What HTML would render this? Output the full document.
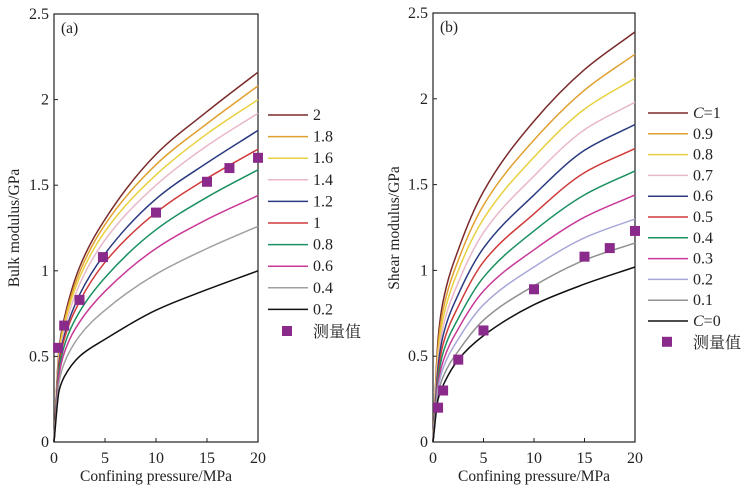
<!DOCTYPE html>
<html><head><meta charset="utf-8"><style>
body{margin:0;background:#fff}
svg text{font-family:"Liberation Serif","Noto Serif CJK SC",serif;fill:#222}
</style></head><body>
<svg id="chart" width="744" height="493" xmlns="http://www.w3.org/2000/svg"></svg>
<script>
const xs=[0,0.5,1,2.5,5,10,15,20];
const leftLabels=["2","1.8","1.6","1.4","1.2","1","0.8","0.6","0.4","0.2"];
const leftSeries=[
[0,0.55,0.72,1.02,1.30,1.68,1.93,2.16],
[0,0.53,0.70,0.99,1.27,1.62,1.86,2.08],
[0,0.51,0.68,0.96,1.23,1.56,1.80,2.00],
[0,0.49,0.65,0.92,1.18,1.50,1.73,1.92],
[0,0.47,0.62,0.86,1.10,1.42,1.63,1.82],
[0,0.45,0.60,0.82,1.05,1.34,1.54,1.71],
[0,0.42,0.56,0.76,0.96,1.24,1.43,1.59],
[0,0.39,0.52,0.70,0.88,1.13,1.30,1.44],
[0,0.35,0.46,0.62,0.77,0.98,1.13,1.26],
[0,0.30,0.38,0.50,0.60,0.77,0.89,1.00]];
const leftColors=["#7a2a2a","#e0a030","#e8d040","#e8b8cc","#2a3a80","#d03a3a","#1a9060","#c83a98","#a0a0a0","#111"];
const leftMx=[0.4,1,2.5,4.8,10,15,17.2,20];
const leftMy=[0.55,0.68,0.83,1.08,1.34,1.52,1.60,1.66];
const rightLabels=["C=1","0.9","0.8","0.7","0.6","0.5","0.4","0.3","0.2","0.1","C=0"];
const rightSeries=[
[0,0.60,0.82,1.12,1.46,1.87,2.17,2.39],
[0,0.56,0.77,1.06,1.38,1.76,2.05,2.26],
[0,0.52,0.72,1.00,1.30,1.66,1.94,2.12],
[0,0.48,0.67,0.93,1.22,1.55,1.82,1.98],
[0,0.44,0.62,0.86,1.13,1.44,1.70,1.85],
[0,0.40,0.57,0.79,1.05,1.33,1.57,1.71],
[0,0.37,0.52,0.72,0.96,1.23,1.44,1.58],
[0,0.34,0.47,0.66,0.88,1.12,1.31,1.44],
[0,0.31,0.43,0.60,0.80,1.02,1.19,1.30],
[0,0.28,0.38,0.53,0.71,0.91,1.06,1.16],
[0,0.25,0.33,0.48,0.62,0.80,0.92,1.02]];
const rightColors=["#7a2a2a","#e0a030","#e8d040","#e8b8cc","#2a3a80","#d03a3a","#1a9060","#c83a98","#a8a8d8","#909090","#111"];
const rightMx=[0.5,1,2.5,5,10,15,17.5,20];
const rightMy=[0.20,0.30,0.48,0.65,0.89,1.08,1.13,1.23];
const xTicks=[0,5,10,15,20];
const yTicks=[0,0.5,1,1.5,2,2.5];
const yTickLabels=["0","0.5","1","1.5","2","2.5"];

const svg=document.getElementById('chart');
const NS="http://www.w3.org/2000/svg";
function mk(t,a,p){const e=document.createElementNS(NS,t);for(const k in a)e.setAttribute(k,a[k]);(p||svg).appendChild(e);return e;}

// monotone cubic path through points
function monoPath(P){
  const n=P.length,dx=[],dy=[],m=[],t=[];
  for(let i=0;i<n-1;i++){dx[i]=P[i+1][0]-P[i][0];dy[i]=P[i+1][1]-P[i][1];m[i]=dy[i]/dx[i];}
  t[0]=m[0];t[n-1]=m[n-2];
  for(let i=1;i<n-1;i++){
    if(m[i-1]*m[i]<=0)t[i]=0;
    else{const w1=2*dx[i]+dx[i-1],w2=dx[i]+2*dx[i-1];t[i]=(w1+w2)/(w1/m[i-1]+w2/m[i]);}
  }
  let d='M'+P[0][0].toFixed(1)+','+P[0][1].toFixed(1);
  for(let i=0;i<n-1;i++){
    const h=dx[i]/3;
    d+='C'+(P[i][0]+h).toFixed(1)+','+(P[i][1]+t[i]*h).toFixed(1)+' '+(P[i+1][0]-h).toFixed(1)+','+(P[i+1][1]-t[i+1]*h).toFixed(1)+' '+P[i+1][0].toFixed(1)+','+P[i+1][1].toFixed(1);
  }
  return d;
}

function panel(o){
  const g=mk('g',{});
  
  
  const X=v=>o.x0+(o.x1-o.x0)*v/20, Y=v=>o.y0-(o.y0-o.y1)*v/2.5;
  const fr=mk('rect',{x:o.x0,y:o.y1,width:o.x1-o.x0,height:o.y0-o.y1,fill:'none',stroke:'#222','stroke-width':1.2},g);
  
  
  xTicks.forEach(t=>{
    mk('line',{x1:X(t),x2:X(t),y1:o.y0,y2:o.y0-4,stroke:'#222'},g);
    const tx=mk('text',{x:X(t),y:o.y0+21,'text-anchor':'middle','font-size':16},g);
    tx.textContent=t;
    
    
  });
  yTicks.forEach((t,i)=>{
    mk('line',{x1:o.x0,x2:o.x0+4,y1:Y(t),y2:Y(t),stroke:'#222'},g);
    const tx=mk('text',{x:o.x0-5,y:Y(t)+5,'text-anchor':'end','font-size':16},g);
    tx.textContent=yTickLabels[i];
    
    
  });
  const xt=mk('text',{x:(o.x0+o.x1)/2,y:481,'text-anchor':'middle','font-size':15.5},g);
  xt.textContent='Confining pressure/MPa';
  
  
  const yt=mk('text',{x:0,y:0,'text-anchor':'middle','font-size':15.5,transform:`translate(${o.yx},${o.yc}) rotate(-90)`},g);
  yt.textContent=o.ytitle;
  
  
  const pl=mk('text',{x:o.x0+7,y:o.y1+19,'font-size':15.5},g);
  pl.textContent=o.plabel;
  
  
  o.series.forEach((s,i)=>{
    const P=s.map((v,j)=>[X(xs[j]),Y(v)]);
    const p=mk('path',{d:monoPath(P),fill:'none',stroke:o.colors[i],'stroke-width':1.5,'stroke-linejoin':'round'},g);
    
    
    const ly=o.ly0+i*o.ldy;
    const ll=mk('line',{x1:o.lx,x2:o.lx+40,y1:ly,y2:ly,stroke:o.colors[i],'stroke-width':1.5},g);
    
    
    const lt=mk('text',{x:o.lx+45,y:ly+5,'font-size':16},g);
    if(o.labels[i].startsWith('C=')){
      const it=mk('tspan',{'font-style':'italic'},lt);it.textContent='C';
      const r=mk('tspan',{},lt);r.textContent=o.labels[i].slice(1);
    } else lt.textContent=o.labels[i];
    
    
  });
  o.mx.forEach((mx,i)=>{
    const r=mk('rect',{x:X(mx)-5,y:Y(o.my[i])-5,width:10,height:10,fill:'#8a2a8a'},g);
    
    
  });
  const my=o.ly0+o.series.length*o.ldy;
  const lm=mk('rect',{x:o.lx+14,y:my-5,width:10,height:10,fill:'#8a2a8a'},g);
  
  
  const lmt=mk('text',{x:o.lx+45,y:my+6,'font-size':16},g);
  lmt.textContent='测量值';
  
  
}
panel({name:'bulk-modulus-panel',x0:54,x1:258,y0:442,y1:14,yx:19,yc:228,ytitle:'Bulk modulus/GPa',plabel:'(a)',series:leftSeries,colors:leftColors,labels:leftLabels,mx:leftMx,my:leftMy,lx:268,ly0:115,ldy:21.6});
panel({name:'shear-modulus-panel',x0:433,x1:635,y0:442,y1:13,yx:399,yc:228,ytitle:'Shear modulus/GPa',plabel:'(b)',series:rightSeries,colors:rightColors,labels:rightLabels,mx:rightMx,my:rightMy,lx:648,ly0:113,ldy:20.8});
</script>
</body></html>
